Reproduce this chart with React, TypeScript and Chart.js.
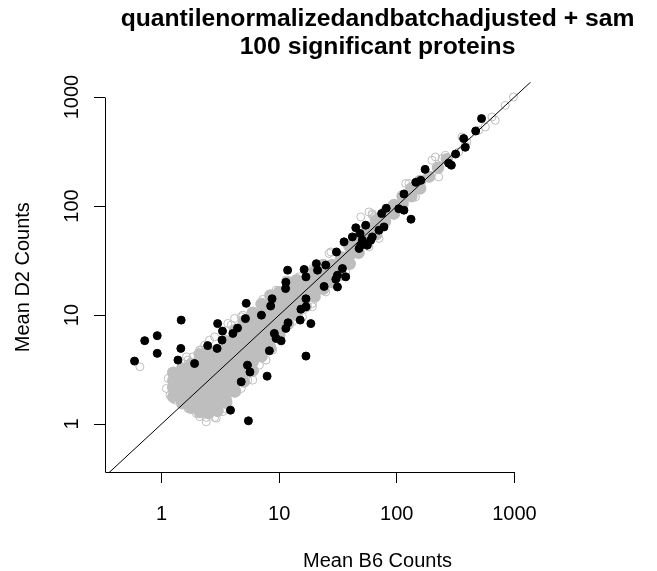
import React, { useEffect, useRef } from "react";
import { Chart, registerables } from "chart.js";

Chart.register(...registerables);

const TITLE_LINES = ["quantilenormalizedandbatchadjusted + sam", "100 significant proteins"];
const X_TITLE = "Mean B6 Counts";
const Y_TITLE = "Mean D2 Counts";
const TICK_VALUES = [1, 10, 100, 1000];
const X_RANGE = [0.331, 14190];
const Y_RANGE = [0.363, 1364];
const DIAGONAL = [0.1, 20000];

// significant proteins: [Mean B6, Mean D2]
const significant: [number, number][] = [
  [0.59, 3.78], [0.72, 5.82], [0.92, 6.47], [0.92, 4.45], [1.47, 8.98], [1.46, 4.94],
  [1.38, 3.86], [1.91, 3.59], [2.47, 5.24], [3.0, 8.34], [3.3, 7.12], [3.27, 5.89],
  [2.97, 4.94], [4.04, 6.78], [4.43, 7.59], [5.25, 12.8], [5.17, 9.27], [5.38, 3.47],
  [5.65, 3.0], [4.76, 2.44], [3.86, 1.34], [5.48, 1.07], [7.07, 9.98], [7.9, 2.75],
  [8.26, 4.7], [8.71, 14.1], [8.47, 12.1], [9.1, 6.78], [9.42, 6.1], [10.4, 5.8],
  [11.8, 25.8], [11.4, 20.0], [11.35, 17.5], [11.9, 8.49], [11.4, 7.54], [15.1, 8.98],
  [15.3, 11.3], [16.9, 11.9], [16.9, 14.1], [18.6, 8.34], [16.9, 4.2], [16.3, 26.2],
  [16.9, 22.4], [21.2, 25.8], [24.9, 28.7], [20.7, 29.6], [24.1, 18.3], [30.7, 37.9],
  [31.3, 23.2], [34.5, 26.7], [30.3, 21.3], [31.3, 18.1], [36.8, 22.4], [35.6, 46.9],
  [41.9, 52.1], [44.8, 63.2], [48.7, 56.0], [54.4, 66.7], [50.9, 48.6], [49.4, 43.7],
  [56.1, 43.7], [60.0, 48.6], [47.8, 40.8], [70.5, 60.0], [77.8, 64.3], [74.3, 85.3],
  [81.3, 95.5], [104, 94.4], [115, 91.6], [115, 129], [132, 75.7], [145, 165],
  [160, 172], [174, 217], [276, 247], [291, 237], [316, 300], [382, 346],
  [370, 416], [468, 488], [525, 634], [61.9, 52.1],
];

// non-significant proteins, visible single rings at the cloud's edge
const otherEdge: [number, number][] = [
  [0.655, 3.35], [1.14, 2.62], [1.10, 2.12], [1.18, 1.84], [1.22, 3.02], [1.30, 1.66],
  [1.48, 1.55], [1.68, 1.39], [1.98, 1.25], [2.11, 1.17], [2.40, 1.15], [2.83, 1.15],
  [3.32, 1.30], [3.66, 1.66], [4.18, 1.91], [4.76, 2.12], [5.41, 2.53], [1.68, 3.86],
  [1.85, 4.14], [2.18, 4.77], [2.33, 5.30], [2.83, 6.31], [3.92, 8.08], [4.76, 9.63],
  [3.66, 8.38], [1.63, 4.14], [1.43, 3.02], [1.22, 2.20], [2.40, 1.05], [2.92, 1.13],
  [3.44, 1.39], [5.97, 2.53], [6.79, 3.47], [7.74, 3.86], [8.81, 4.77], [10.4, 6.54],
  [13.0, 8.67], [15.8, 9.63], [19.2, 12.8], [24.9, 16.3], [7.25, 13.9], [9.42, 16.9],
  [11.4, 20.9], [14.8, 22.4], [19.2, 26.7], [26.6, 36.7], [2.11, 4.77], [2.56, 5.89],
  [4.91, 9.98], [10.7, 16.9], [13.9, 20.9], [36.8, 45.3], [47.8, 60.0], [61.9, 82.4],
  [10.7, 7.80], [19.2, 11.9], [36.8, 24.9], [58.0, 42.2], [70.5, 50.4], [4.18, 9.31],
  [58.0, 88.3], [119, 161], [199, 263], [259, 292], [336, 313], [358, 430],
  [643, 656], [834, 839], [980, 1000], [97.7, 85.3], [144, 121], [227, 185],
  [382, 361], [495, 495], [213, 282], [127, 140], [64.0, 79.4], [49.4, 79.4],
  [686, 611], [565, 531], [394, 387], [242, 272], [127, 161], [61.9, 85.3],
  [27.5, 37.9], [39.3, 30.7],
];

// non-significant proteins, the dense overlapping core of the cloud
const otherDense: [number, number][] = [
  [1.26, 1.78], [1.26, 2.14], [1.26, 2.51], [1.26, 2.95],
  [1.50, 1.55], [1.50, 1.86], [1.50, 2.24], [1.50, 2.69], [1.50, 3.24],
  [1.78, 1.41], [1.78, 1.70], [1.78, 2.04], [1.78, 2.45], [1.78, 2.95], [1.78, 3.55],
  [2.11, 1.29], [2.11, 1.55], [2.11, 1.86], [2.11, 2.24], [2.11, 2.69], [2.11, 3.24], [2.11, 3.89], [2.11, 4.37],
  [2.51, 1.26], [2.51, 1.51], [2.51, 1.82], [2.51, 2.19], [2.51, 2.63], [2.51, 3.16], [2.51, 3.80], [2.51, 4.57],
  [2.99, 1.32], [2.99, 1.58], [2.99, 1.91], [2.99, 2.29], [2.99, 2.75], [2.99, 3.31], [2.99, 3.98], [2.99, 4.79],
  [3.55, 1.58], [3.55, 1.91], [3.55, 2.29], [3.55, 2.75], [3.55, 3.31], [3.55, 3.98], [3.55, 4.79], [3.55, 5.75],
  [4.22, 2.00], [4.22, 2.40], [4.22, 2.88], [4.22, 3.47], [4.22, 4.17], [4.22, 5.01], [4.22, 6.03], [4.22, 7.24],
  [5.01, 2.45], [5.01, 2.95], [5.01, 3.55], [5.01, 4.27], [5.01, 5.13], [5.01, 6.17], [5.01, 7.41], [5.01, 8.71],
  [5.96, 3.09], [5.96, 3.72], [5.96, 4.47], [5.96, 5.37], [5.96, 6.46], [5.96, 7.76], [5.96, 9.12], [5.96, 10.5],
  [7.08, 4.17], [7.08, 5.01], [7.08, 6.03], [7.08, 7.24], [7.08, 8.71], [7.08, 10.5], [7.08, 12.6],
  [8.41, 5.01], [8.41, 6.03], [8.41, 7.24], [8.41, 8.71], [8.41, 10.5], [8.41, 12.6], [8.41, 15.1],
  [10.0, 6.46], [10.0, 7.76], [10.0, 9.33], [10.0, 11.2], [10.0, 13.5], [10.0, 16.2],
  [11.9, 8.32], [11.9, 10.0], [11.9, 12.0], [11.9, 14.5], [11.9, 17.4], [11.9, 20.0],
  [14.1, 10.0], [14.1, 12.0], [14.1, 14.5], [14.1, 17.4], [14.1, 20.9],
  [16.8, 12.0], [16.8, 14.5], [16.8, 17.4], [16.8, 20.9],
  [20.0, 14.8], [20.0, 17.8], [20.0, 21.4], [20.0, 25.1],
  [23.7, 17.4], [23.7, 20.9], [23.7, 25.1], [23.7, 28.8],
  [28.2, 20.0], [28.2, 24.0], [28.2, 28.8],
  [33.5, 23.4], [33.5, 28.2], [33.5, 33.9],
  [39.8, 29.5], [39.8, 35.5], [39.8, 42.7],
  [47.3, 37.2], [47.3, 44.7], [47.3, 51.3],
  [56.2, 45.7], [56.2, 55.0], [56.2, 63.1],
  [66.8, 55.0], [66.8, 66.1], [66.8, 74.1],
  [79.4, 72.4], [79.4, 87.1],
  [94.4, 85.1], [94.4, 102],
  [112, 105], [112, 123],
  [133, 123], [133, 145],
  [158, 145], [158, 170],
  [188, 186], [224, 224], [266, 269],
];

const FONT = '"Liberation Sans", Arial, Helvetica, sans-serif';
const GRAY = "#BEBEBE";

const toPoints = (arr: [number, number][]) => arr.map(([x, y]) => ({ x, y }));

const axisLinesPlugin = {
  id: "axisLines",
  afterDraw(chart: any) {
    const { ctx, chartArea, scales } = chart;
    const xs = scales.x;
    const ys = scales.y;
    const left = Math.round(chartArea.left) + 0.5;
    const bottom = Math.round(chartArea.bottom) + 0.5;
    ctx.save();
    ctx.strokeStyle = "#000";
    ctx.lineWidth = 1;
    ctx.beginPath();
    ctx.moveTo(left, bottom);
    ctx.lineTo(Math.round(xs.getPixelForValue(TICK_VALUES[TICK_VALUES.length - 1])) + 0.5, bottom);
    ctx.moveTo(left, bottom);
    ctx.lineTo(left, Math.round(ys.getPixelForValue(TICK_VALUES[TICK_VALUES.length - 1])) + 0.5);
    ctx.stroke();
    ctx.restore();
  },
};

export default function App() {
  const canvasRef = useRef<HTMLCanvasElement | null>(null);

  useEffect(() => {
    const canvas = canvasRef.current;
    if (!canvas) return;
    const chart = new Chart(canvas, {
      type: "scatter",
      data: {
        datasets: [
          {
            label: "y = x",
            data: DIAGONAL.map((v) => ({ x: v, y: v })),
            showLine: true,
            borderColor: "#000",
            borderWidth: 1,
            pointRadius: 0,
            order: 0,
          },
          {
            label: "significant",
            data: toPoints(significant),
            backgroundColor: "#000",
            borderColor: "#000",
            borderWidth: 1,
            pointRadius: 4,
            order: 1,
          },
          {
            label: "other",
            data: toPoints(otherEdge),
            backgroundColor: "rgba(0,0,0,0)",
            borderColor: GRAY,
            borderWidth: 1,
            pointRadius: 4,
            order: 2,
          },
          {
            label: "other (dense)",
            data: toPoints(otherDense),
            backgroundColor: GRAY,
            borderColor: GRAY,
            borderWidth: 1.5,
            pointRadius: 5.5,
            order: 3,
          },
        ],
      },
      options: {
        animation: false,
        responsive: false,
        devicePixelRatio: 1,
        layout: { padding: { left: 0, right: 5, top: 0, bottom: 0 } },
        plugins: {
          legend: { display: false },
          tooltip: { enabled: false },
          title: {
            display: true,
            text: TITLE_LINES,
            fullSize: false,
            color: "#000",
            font: { family: FONT, size: 24.7, weight: "bold", lineHeight: 1.1 },
            padding: { top: 6, bottom: 22 },
          },
        },
        scales: {
          x: {
            type: "logarithmic",
            position: "bottom",
            min: X_RANGE[0],
            max: X_RANGE[1],
            bounds: "data",
            afterBuildTicks: (s: any) => {
              s.ticks = TICK_VALUES.map((v) => ({ value: v }));
            },
            afterFit: (s: any) => {
              s.height = 99;
            },
            grid: { display: true, drawOnChartArea: false, drawTicks: true, tickLength: 11, color: "#000", lineWidth: 1 },
            border: { display: false },
            ticks: {
              color: "#000",
              font: { family: FONT, size: 20 },
              padding: 19,
              maxRotation: 0,
              autoSkip: false,
              callback: (v: any) => String(v),
            },
            title: {
              display: true,
              text: X_TITLE,
              color: "#000",
              font: { family: FONT, size: 20, lineHeight: 1 },
              padding: { top: 0, bottom: 0 },
            },
          },
          y: {
            type: "logarithmic",
            position: "left",
            min: Y_RANGE[0],
            max: Y_RANGE[1],
            bounds: "data",
            afterBuildTicks: (s: any) => {
              s.ticks = TICK_VALUES.map((v) => ({ value: v }));
            },
            afterFit: (s: any) => {
              s.width = 105;
            },
            grid: { display: true, drawOnChartArea: false, drawTicks: true, tickLength: 11, color: "#000", lineWidth: 1 },
            border: { display: false },
            ticks: {
              color: "#000",
              font: { family: FONT, size: 20 },
              padding: -1,
              minRotation: 90,
              maxRotation: 90,
              crossAlign: "center",
              autoSkip: false,
              callback: (v: any) => String(v),
            },
            title: {
              display: true,
              text: Y_TITLE,
              color: "#000",
              font: { family: FONT, size: 20, lineHeight: 1 },
              padding: { top: 13, bottom: 0 },
            },
          },
        },
      },
      plugins: [axisLinesPlugin],
    } as any);
    return () => chart.destroy();
  }, []);

  return (
    <div style={{ position: "absolute", left: 0, top: 0, width: 657, height: 571, background: "#fff" }}>
      <canvas ref={canvasRef} width={657} height={571} style={{ display: "block" }} />
    </div>
  );
}
